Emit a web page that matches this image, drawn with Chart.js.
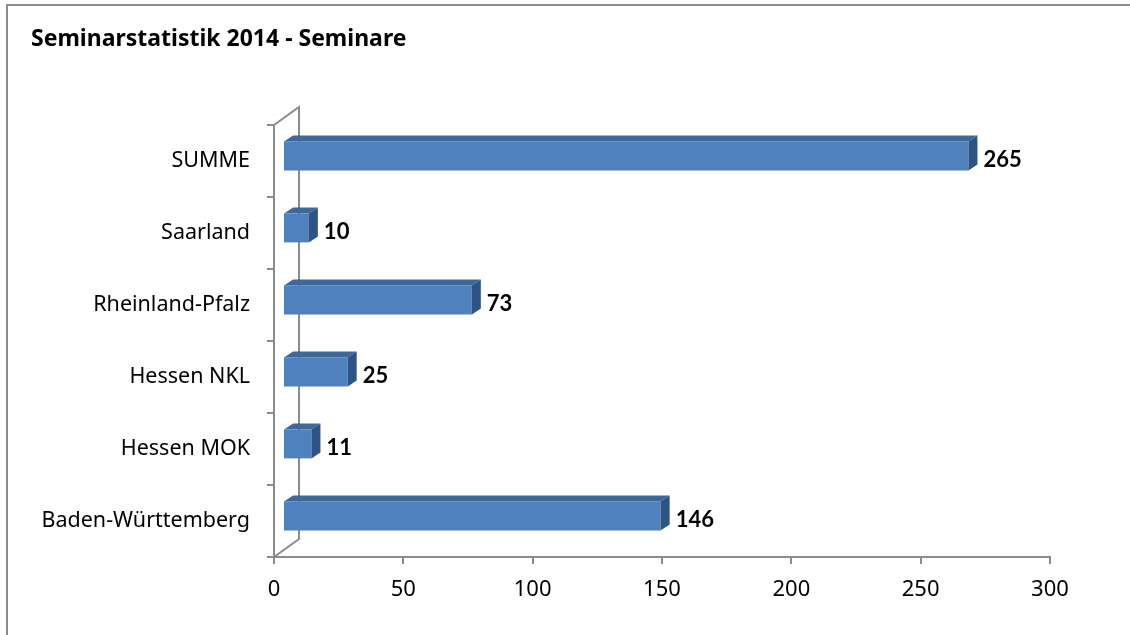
<!DOCTYPE html>
<html>
<head>
<meta charset="utf-8">
<script src="https://cdn.jsdelivr.net/npm/chart.js@4"></script>
<style>
  body { margin: 0; background: #fff; }
  canvas { display: block; }
</style>
</head>
<body>
<canvas id="myChart" width="1130" height="635"></canvas>
<script>
const categories = ['SUMME', 'Saarland', 'Rheinland-Pfalz', 'Hessen NKL', 'Hessen MOK', 'Baden-Württemberg'];
const seminare = [265, 10, 73, 25, 11, 146];
const xTicks = [0, 50, 100, 150, 200, 250, 300];

const lineCol = '#8c8c8c';
const front = '#4f81bd';
const topCol = '#3f6899';
const sideCol = '#2f5384';

// oblique offsets for the fake 3d look
const barDx = 9, barDy = 5;     // front face of bar vs. front plane
const depthDx = 9, depthDy = 6; // bar depth
const wallDx = 25, wallDy = 18; // back wall

const frame = {
  id: 'frame',
  beforeDraw(chart) {
    const c = chart.ctx;
    c.save();
    c.fillStyle = '#fff';
    c.fillRect(0, 0, chart.width, chart.height);
    c.strokeStyle = lineCol;
    c.lineWidth = 2;
    c.strokeRect(7, 5, chart.width + 20, chart.height + 20);
    c.restore();
  }
};

const bar3d = {
  id: 'bar3d',
  beforeDatasetsDraw(chart) {
    const c = chart.ctx, a = chart.chartArea;
    c.save();
    c.strokeStyle = lineCol;
    c.lineWidth = 2;
    c.beginPath();
    c.moveTo(a.left, a.top);
    c.lineTo(a.left + wallDx, a.top - wallDy);
    c.lineTo(a.left + wallDx, a.bottom - wallDy);
    c.lineTo(a.left, a.bottom);
    c.stroke();
    c.restore();
    c.save();
    c.translate(barDx, -barDy);
  },
  afterDatasetsDraw(chart) {
    const c = chart.ctx;
    c.restore();
    const meta = chart.getDatasetMeta(0);
    meta.data.forEach((bar, i) => {
      const p = bar.getProps(['x', 'y', 'base', 'height'], true);
      const l = p.base + barDx, r = p.x + barDx;
      const t = p.y - p.height / 2 - barDy, b = p.y + p.height / 2 - barDy;
      c.fillStyle = topCol;
      c.beginPath();
      c.moveTo(l, t);
      c.lineTo(r, t);
      c.lineTo(r + depthDx, t - depthDy);
      c.lineTo(l + depthDx, t - depthDy);
      c.closePath();
      c.fill();
      c.fillStyle = sideCol;
      c.beginPath();
      c.moveTo(r, t);
      c.lineTo(r + depthDx, t - depthDy);
      c.lineTo(r + depthDx, b - depthDy);
      c.lineTo(r, b);
      c.closePath();
      c.fill();

      c.fillStyle = '#000';
      c.font = 'bold 22px Lato';
      c.textAlign = 'left';
      c.textBaseline = 'middle';
      c.fillText(String(seminare[i]), r + depthDx + 6, p.y - 1);
    });
  }
};

const ctx = document.getElementById('myChart');

const cfg = {
  type: 'bar',
  data: {
    labels: categories,
    datasets: [{
      data: seminare,
      backgroundColor: front,
      borderWidth: 0,
      categoryPercentage: 0.4,
      barPercentage: 1
    }]
  },
  options: {
    indexAxis: 'y',
    responsive: false,
    animation: false,
    layout: { padding: { left: 31, right: 80, top: 0, bottom: 0 } },
    plugins: {
      legend: { display: false },
      tooltip: { enabled: false },
      title: {
        display: true,
        text: 'Seminarstatistik 2014 - Seminare',
        align: 'start',
        color: '#000',
        font: { family: 'Noto Sans', size: 23, weight: 'bold', lineHeight: 1.2 },
        padding: { top: 26, bottom: 71.4 }
      }
    },
    scales: {
      x: {
        type: 'linear',
        min: 0,
        max: 300,
        afterBuildTicks(scale) {
          scale.ticks = xTicks.map(v => ({ value: v }));
        },
        afterFit(scale) { scale.height = 78; },
        grid: { drawOnChartArea: false, color: lineCol, lineWidth: 2, tickLength: 7 },
        border: { color: lineCol, width: 2 },
        ticks: { color: '#000', font: { family: 'Noto Sans', size: 22 }, padding: 13, maxRotation: 0 }
      },
      y: {
        afterFit(scale) { scale.width = 274 - 31; },
        grid: { drawOnChartArea: false, color: lineCol, lineWidth: 2, tickLength: 7, offset: true },
        border: { color: lineCol, width: 2 },
        ticks: { color: '#000', font: { family: 'Noto Sans', size: 21.5 }, padding: 17 }
      }
    }
  },
  plugins: [frame, bar3d]
};

let cht = new Chart(ctx, cfg);
</script>
</body>
</html>
